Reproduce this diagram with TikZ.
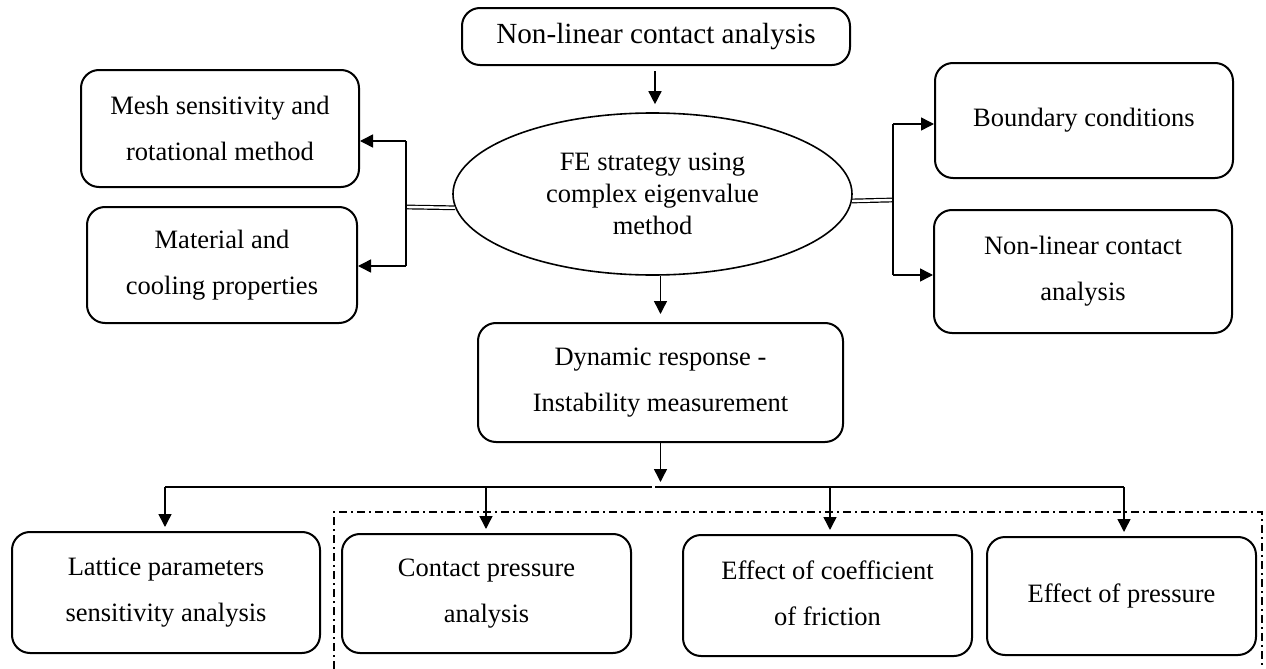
\documentclass[tikz,border=0pt]{standalone}
\usepackage{fontspec}
\setmainfont{Liberation Serif}
\usetikzlibrary{arrows.meta,shapes.geometric,calc}
\tikzset{
  block/.style={rectangle,rounded corners=9pt,draw=black,line width=1pt,fill=white,
    align=center,inner sep=2pt,font=\fontsize{13.25}{23}\selectfont},
  hub/.style={ellipse,draw=black,line width=0.8pt,fill=white,inner sep=0pt,
    align=center,font=\fontsize{13.25}{16}\selectfont},
  link/.style={-{Triangle[length=6.5pt,width=6.5pt]},line width=0.75pt},
  plain/.style={line width=0.75pt},
  dbllink/.style={double,double distance=1.2pt,line width=0.6pt},
  % open frame round the three right-hand studies
  groupline/.style={line width=0.8pt,dash pattern=on 4pt off 2pt on 1pt off 2pt},
}
\begin{document}
\begin{tikzpicture}[x=0.5pt,y=-0.5pt]
\useasboundingbox[fill=white] (0,0) rectangle (1266,669);

% --- top and centre ---
\node[block,minimum width=194pt,minimum height=28.5pt,font=\fontsize{14.6}{18}\selectfont] (nlca) at (656,36.5) {Non-linear contact analysis};
\node[hub,minimum width=199.5pt,minimum height=81pt] (fe) at (652.5,194)
  {\raisebox{-1.5pt}{FE strategy using}\\\raisebox{-1.5pt}{complex eigenvalue}\\\raisebox{-1.5pt}{method}};
\node[block,minimum width=182.5pt,minimum height=59.5pt] (dyn) at (660.5,382.5)
  {Dynamic response -\\Instability measurement};

% --- left side ---
\node[block,minimum width=139pt,minimum height=58.5pt] (mesh) at (220,128.5)
  {Mesh sensitivity and\\rotational method};
\node[block,minimum width=135pt,minimum height=58pt] (mat) at (222,265)
  {Material and\\cooling properties};

% --- right side ---
\node[block,minimum width=149pt,minimum height=57.5pt] (bc) at (1084,120.5)
  {\raisebox{3pt}{Boundary conditions}};
\node[block,minimum width=149pt,minimum height=61.5pt] (nlc) at (1083,271.5)
  {Non-linear contact\\analysis};

% --- bottom row ---
\node[block,minimum width=154pt,minimum height=60.5pt] (lat) at (166,592.5)
  {Lattice parameters\\sensitivity analysis};
\node[block,minimum width=144.5pt,minimum height=59.5pt] (cpa) at (486.5,593.5)
  {Contact pressure\\analysis};
\node[block,minimum width=144.5pt,minimum height=60.5pt] (eff) at (827.5,595.5)
  {\raisebox{2pt}{Effect of coefficient}\\\raisebox{2pt}{of friction}};
\node[block,minimum width=134.5pt,minimum height=59pt] (efp) at (1121.5,596)
  {\raisebox{3pt}{Effect of pressure}};

% vertical arrows
\draw[link,shorten <=2.5pt,shorten >=4pt] (nlca.south -| 655,0) -- (fe.north -| 655,0);
\draw[link,shorten >=4pt] (dyn.north |- fe.south) -- (dyn.north);

% left branch
\coordinate (lj) at (406,207);
\coordinate (lt) at (406,141);
\coordinate (lb) at (406,266);
\draw[dbllink] (fe.184) -- (lj);
\draw[plain] (lt) -- (lb);
\draw[link] (lt) -- (lt -| mesh.east);
\draw[link] (lb) -- (lb -| mat.east);

% right branch
\coordinate (rj) at (893,200);
\coordinate (rt) at (893,124);
\coordinate (rb) at (893,275);
\draw[dbllink] (fe.-2) -- (rj);
\draw[plain] (rt) -- (rb);
\draw[link] (rt) -- (rt -| bc.west);
\draw[link] (rb) -- (rb -| nlc.west);

% bus to the bottom row
\coordinate (bus) at (659,487);
\draw[link,shorten >=2.5pt] (dyn.south) -- (dyn.south |- bus);
\draw[plain] (165,487) -- (652,487) (655,487) -- (1124,487);
\foreach \n/\x in {lat/165,cpa/486,eff/830,efp/1124}
  \draw[link,shorten >=2pt] (\x,487) -- (\n.north -| \x,0);

\draw[groupline] (334,669) -- (334,512) -- (1262,512) -- (1262,669);
\end{tikzpicture}
\end{document}
